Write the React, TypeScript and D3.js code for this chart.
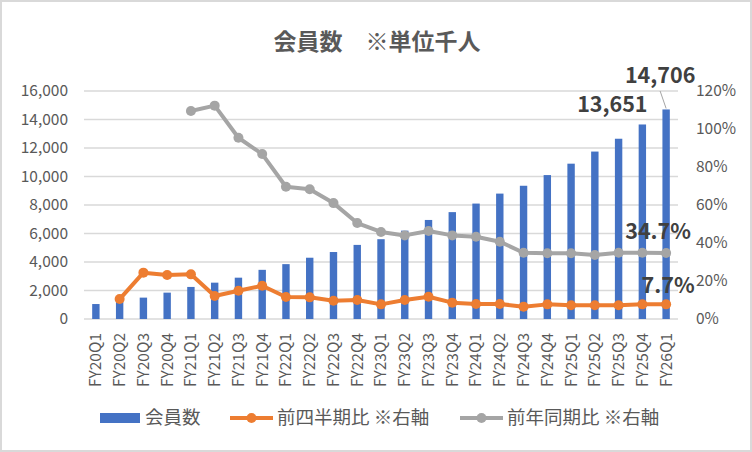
import { useEffect, useRef } from 'react';
import * as d3 from 'd3';

const quarters = [
  'FY20Q1', 'FY20Q2', 'FY20Q3', 'FY20Q4',
  'FY21Q1', 'FY21Q2', 'FY21Q3', 'FY21Q4',
  'FY22Q1', 'FY22Q2', 'FY22Q3', 'FY22Q4',
  'FY23Q1', 'FY23Q2', 'FY23Q3', 'FY23Q4',
  'FY24Q1', 'FY24Q2', 'FY24Q3', 'FY24Q4',
  'FY25Q1', 'FY25Q2', 'FY25Q3', 'FY25Q4',
  'FY26Q1',
];

// 会員数 (千人)
const members = [
  1050, 1250, 1500, 1850,
  2250, 2550, 2900, 3450,
  3850, 4300, 4700, 5200,
  5600, 6200, 6950, 7500,
  8100, 8800, 9350, 10100,
  10900, 11750, 12650, 13651,
  14706,
];

// 前四半期比 (right axis)
const qoq: (number | null)[] = [
  null, 0.105, 0.244, 0.232,
  0.235, 0.121, 0.149, 0.175,
  0.116, 0.114, 0.096, 0.1,
  0.077, 0.1, 0.117, 0.086,
  0.079, 0.079, 0.065, 0.077,
  0.072, 0.072, 0.072, 0.077,
  0.077,
];

// 前年同期比 (right axis)
const yoy: (number | null)[] = [
  null, null, null, null,
  1.095, 1.123, 0.954, 0.868,
  0.696, 0.683, 0.61, 0.505,
  0.458, 0.44, 0.463, 0.44,
  0.433, 0.407, 0.349, 0.346,
  0.346, 0.337, 0.349, 0.349,
  0.347,
];

const leftTicks = [0, 2000, 4000, 6000, 8000, 10000, 12000, 14000, 16000];
const rightTicks = [0, 0.2, 0.4, 0.6, 0.8, 1.0, 1.2];

const FONT = '"Noto Sans CJK JP", "Noto Sans", sans-serif';
const BLUE = '#4472c4';
const ORANGE = '#ed7d31';
const GRAY = '#a5a5a5';
const TEXT = '#595959';
const DARK = '#404040';

export default function App() {
  const svgRef = useRef<SVGSVGElement | null>(null);

  useEffect(() => {
    if (!svgRef.current) return;
    const width = 752;
    const height = 452;
    const svg = d3.select(svgRef.current);
    svg.selectAll('*').remove();
    svg.attr('width', width).attr('height', height).style('font-family', FONT);

    // chart area background + border
    svg.append('rect')
      .attr('x', 1).attr('y', 1)
      .attr('width', width - 2).attr('height', height - 2)
      .attr('fill', '#fff')
      .attr('stroke', '#d9d9d9')
      .attr('stroke-width', 2);

    const x = d3.scaleBand<string>().domain(quarters).range([84, 678]).padding(0);
    const yL = d3.scaleLinear().domain([0, 16000]).range([319, 91]);
    const yR = d3.scaleLinear().domain([0, 1.2]).range([319, 91]);
    const cx = (d: string) => (x(d) ?? 0) + x.bandwidth() / 2;

    // title
    svg.append('text')
      .attr('x', 377).attr('y', 50)
      .attr('text-anchor', 'middle')
      .attr('fill', TEXT)
      .attr('font-size', 23)
      .attr('font-weight', 'bold')
      .text('会員数　※単位千人');

    // gridlines
    svg.append('g')
      .selectAll('line')
      .data(leftTicks)
      .join('line')
      .attr('x1', 84).attr('x2', 678)
      .attr('y1', (d) => yL(d)).attr('y2', (d) => yL(d))
      .attr('stroke', '#d9d9d9')
      .attr('stroke-width', 1.5);

    // left axis labels
    svg.append('g')
      .selectAll('text')
      .data(leftTicks)
      .join('text')
      .attr('x', 68)
      .attr('y', (d) => yL(d))
      .attr('dy', '0.35em')
      .attr('text-anchor', 'end')
      .attr('font-size', 15.5)
      .attr('fill', TEXT)
      .text((d) => d3.format(',')(d));

    // right axis labels
    svg.append('g')
      .selectAll('text')
      .data(rightTicks)
      .join('text')
      .attr('x', 696)
      .attr('y', (d) => yR(d))
      .attr('dy', '0.35em')
      .attr('font-size', 15.5)
      .attr('fill', TEXT)
      .text((d) => d3.format('.0%')(d));

    // x labels
    svg.append('g')
      .selectAll('text')
      .data(quarters)
      .join('text')
      .attr('transform', (d) => `translate(${cx(d)},333) rotate(-90)`)
      .attr('text-anchor', 'end')
      .attr('dy', '0.35em')
      .attr('font-size', 15.5)
      .attr('fill', TEXT)
      .text((d) => d);

    // bars
    const barW = 7.4;
    svg.append('g')
      .selectAll('rect')
      .data(members)
      .join('rect')
      .attr('x', (_, i) => cx(quarters[i]) - barW / 2)
      .attr('y', (d) => yL(d))
      .attr('width', barW)
      .attr('height', (d) => yL(0) - yL(d))
      .attr('fill', BLUE);

    // lines
    const drawLine = (vals: (number | null)[], color: string) => {
      const pts = vals
        .map((v, i) => ({ q: quarters[i], v }))
        .filter((p) => p.v !== null) as { q: string; v: number }[];
      const line = d3.line<{ q: string; v: number }>()
        .x((p) => cx(p.q))
        .y((p) => yR(p.v));
      const g = svg.append('g');
      g.append('path')
        .datum(pts)
        .attr('fill', 'none')
        .attr('stroke', color)
        .attr('stroke-width', 4)
        .attr('stroke-linejoin', 'round')
        .attr('d', line);
      g.selectAll('circle')
        .data(pts)
        .join('circle')
        .attr('cx', (p) => cx(p.q))
        .attr('cy', (p) => yR(p.v))
        .attr('r', 5)
        .attr('fill', color);
    };
    drawLine(qoq, ORANGE);
    drawLine(yoy, GRAY);

    // data labels
    const n = quarters.length;
    const label = (tx: number, ty: number, t: string) =>
      svg.append('text')
        .attr('x', tx).attr('y', ty)
        .attr('dy', '0.35em')
        .attr('text-anchor', 'middle')
        .attr('font-size', 21.5)
        .attr('font-weight', 'bold')
        .attr('fill', DARK)
        .text(t);

    const lastQ = quarters[n - 1];
    svg.append('line')
      .attr('x1', cx(lastQ) - 6).attr('y1', 91)
      .attr('x2', cx(lastQ)).attr('y2', yL(members[n - 1]) - 1)
      .attr('stroke', GRAY)
      .attr('stroke-width', 1);
    label(cx(lastQ) - 6, yL(members[n - 1]) - 34, d3.format(',')(members[n - 1]));
    label(cx(quarters[n - 2]) - 30, yL(members[n - 2]) - 20, d3.format(',')(members[n - 2]));
    label(cx(lastQ) - 8, yR(yoy[n - 1] as number) - 22, d3.format('.1%')(yoy[n - 1] as number));
    label(cx(lastQ) + 2, yR(qoq[n - 1] as number) - 19, d3.format('.1%')(qoq[n - 1] as number));

    // legend
    const ly = 418;
    const leg = svg.append('g');
    leg.append('rect').attr('x', 100).attr('y', ly - 5).attr('width', 40).attr('height', 10).attr('fill', BLUE);
    leg.append('text').attr('x', 145).attr('y', ly).attr('dy', '0.35em')
      .attr('font-size', 18.5).attr('fill', TEXT).text('会員数');

    const legendLines = [
      { x0: 230, color: ORANGE, text: '前四半期比 ※右軸' },
      { x0: 460, color: GRAY, text: '前年同期比 ※右軸' },
    ];
    legendLines.forEach((l) => {
      leg.append('line').attr('x1', l.x0).attr('x2', l.x0 + 43)
        .attr('y1', ly).attr('y2', ly)
        .attr('stroke', l.color).attr('stroke-width', 4);
      leg.append('circle').attr('cx', l.x0 + 21.5).attr('cy', ly).attr('r', 5).attr('fill', l.color);
      leg.append('text').attr('x', l.x0 + 47).attr('y', ly).attr('dy', '0.35em')
        .attr('font-size', 18.5).attr('fill', TEXT).text(l.text);
    });
  }, []);

  return (
    <div style={{ position: 'absolute', left: 0, top: 0 }}>
      <svg ref={svgRef}></svg>
    </div>
  );
}
